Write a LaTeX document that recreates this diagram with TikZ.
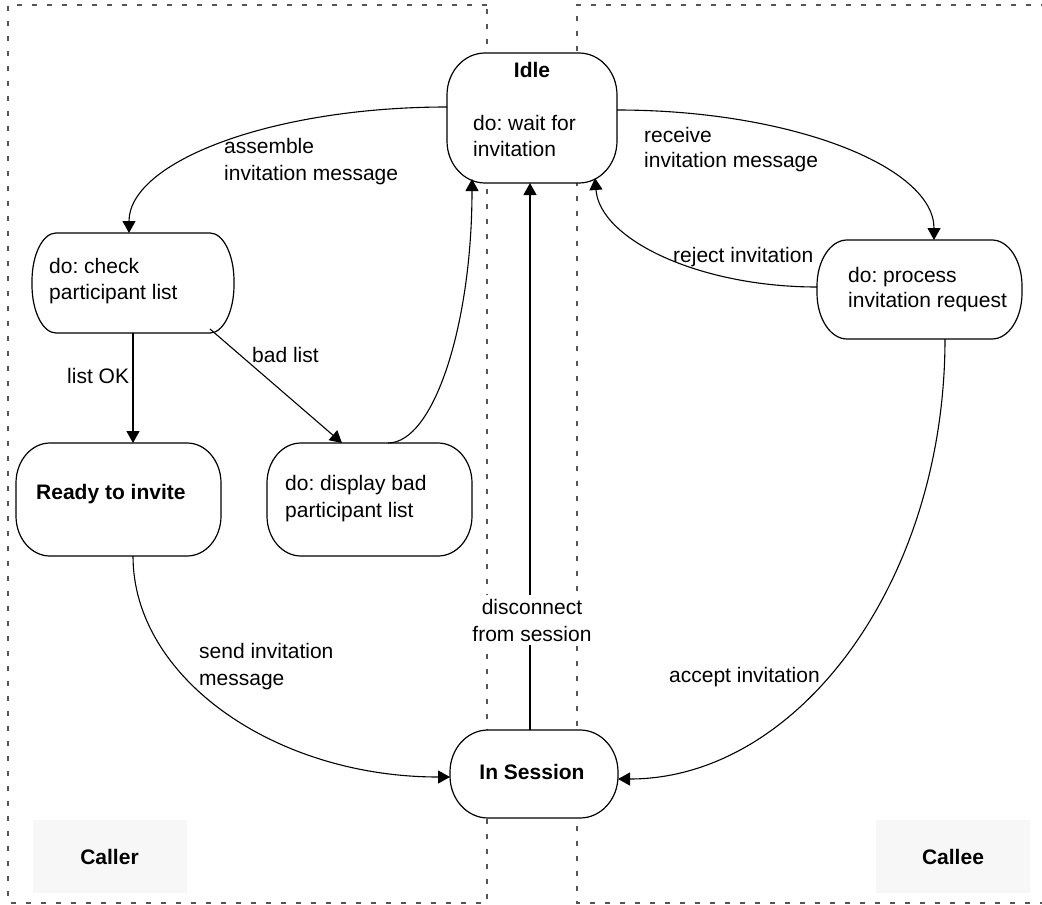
\documentclass[tikz,border=0pt]{standalone}
\usepackage{fontspec}
\setmainfont{Liberation Sans}
\frenchspacing
\usetikzlibrary{arrows.meta}
\definecolor{lanegray}{HTML}{555555}
\definecolor{tagfill}{HTML}{F7F7F7}
% Outline of a state node with elliptic corners:
% #1 node name, #2/#3 corner radii (x/y), #4/#5 control offsets ((1-0.5523) x radius)
\newcommand\stateoutline[5]{%
  \draw[stateline]
    ([xshift=#2]#1.north west) -- ([xshift=-#2]#1.north east)
    .. controls ([xshift=-#4]#1.north east) and ([yshift=-#5]#1.north east) .. ([yshift=-#3]#1.north east)
    -- ([yshift=#3]#1.south east)
    .. controls ([yshift=#5]#1.south east) and ([xshift=-#4]#1.south east) .. ([xshift=-#2]#1.south east)
    -- ([xshift=#2]#1.south west)
    .. controls ([xshift=#4]#1.south west) and ([yshift=#5]#1.south west) .. ([yshift=#3]#1.south west)
    -- ([yshift=-#3]#1.north west)
    .. controls ([yshift=-#5]#1.north west) and ([xshift=#4]#1.north west) .. ([xshift=#2]#1.north west)
    -- cycle;}
\begin{document}
\begin{tikzpicture}[x=1pt,y=-1pt,
  every node/.style={font=\fontsize{21pt}{27pt}\selectfont, inner sep=0pt},
  lane/.style={draw=lanegray, line width=1.3pt, dash pattern=on 5pt off 10pt},
  state/.style={outer sep=0pt},
  stateline/.style={draw, fill=white, line width=1.2pt},
  txt/.style={anchor=base west},
  conn/.style={draw, line width=1.1pt, -{Triangle[length=12pt,width=13pt]}},
  tag/.style={fill=tagfill, minimum width=154pt, minimum height=73pt, font=\fontsize{21pt}{27pt}\selectfont\bfseries}
]
\useasboundingbox (0,0) rectangle (1042,905);

% swimlanes
\draw[lane] (487,5) -- (8,5) -- (8,903) -- (487,903) -- cycle;
\draw[lane] (1046,5) -- (577,5) -- (577,903) -- (1046,903);

% lane tags
\node[tag] (caller) at (109.5,856.5) {Caller};
\node[tag] (callee) at (953,856.5) {Callee};

% states
\node[state, minimum width=170pt, minimum height=130pt] (idle) at (532,118) {};
\node[state, minimum width=202pt, minimum height=100pt] (check) at (133,283) {};
\node[state, minimum width=205pt, minimum height=113pt] (ready) at (118.5,499.5) {};
\node[state, minimum width=205pt, minimum height=113pt] (display) at (369.5,499.5) {};
\node[state, minimum width=205pt, minimum height=99pt] (process) at (919.5,289.5) {};
\node[state, minimum width=168pt, minimum height=88pt] (session) at (534,774) {};

\stateoutline{idle}{38pt}{42pt}{17pt}{18.8pt}
\stateoutline{check}{24pt}{48pt}{10.8pt}{21.5pt}
\stateoutline{ready}{34pt}{40pt}{15.2pt}{17.9pt}
\stateoutline{display}{34pt}{40pt}{15.2pt}{17.9pt}
\stateoutline{process}{30pt}{46pt}{13.4pt}{20.6pt}
\stateoutline{session}{38pt}{42pt}{17pt}{18.8pt}

% state texts
\node[anchor=base, font=\fontsize{21pt}{27pt}\selectfont\bfseries] (idle-title) at (532,77) {Idle};
\node[txt] (idle-do1) at (473,130) {do: wait for};
\node[txt] (idle-do2) at (473,156) {invitation};
\node[txt] (check-do1) at (49,273) {do: check};
\node[txt] (check-do2) at (49,299) {participant list};
\node[txt, font=\fontsize{21pt}{27pt}\selectfont\bfseries] (ready-title) at (36,499) {Ready to invite};
\node[txt] (display-do1) at (285,490) {do: display bad};
\node[txt] (display-do2) at (285,517) {participant list};
\node[txt] (process-do1) at (848,282) {do: process};
\node[txt] (process-do2) at (848,307) {invitation request};
\node[anchor=base, font=\fontsize{21pt}{27pt}\selectfont\bfseries] (session-title) at (532,779) {In Session};

% transitions
\draw[conn] ([yshift=11pt]idle.west) .. controls (271,107) and (129,162) .. ([xshift=-4pt]check.north);
\draw[conn] (check.south) -- (check.south |- ready.north);
\draw[conn] ([xshift=-24pt,yshift=4pt]check.south east) -- ([xshift=-27.5pt]display.north);
\draw[conn] ([xshift=18.5pt]display.north) .. controls (434,443) and (472,324) .. ([xshift=-60pt,yshift=4pt]idle.south);
\draw[conn] ([xshift=-4pt]session.north) -- ([xshift=-2pt]idle.south);
\draw[conn] ([yshift=8pt]idle.east) .. controls (792,110) and (934,167) .. ([xshift=14.5pt]process.north);
\draw[conn] ([yshift=2.5pt]process.west) .. controls (700,287) and (600,240) .. ([xshift=63pt,yshift=5pt]idle.south);
\draw[conn] ([xshift=25.5pt]process.south) .. controls (945,582) and (798,779) .. ([yshift=-5pt]session.east);
\draw[conn] ([xshift=14.5pt]ready.south) .. controls (133,678) and (275,777) .. ([yshift=-3pt]session.west);

% transition labels
\node[txt] (lbl-assemble1) at (224,153) {assemble};
\node[txt] (lbl-assemble2) at (224,180) {invitation message};
\node[txt] (lbl-receive1) at (644,142) {receive};
\node[txt] (lbl-receive2) at (644,167) {invitation message};
\node[txt] (lbl-reject) at (673,262) {reject invitation};
\node[txt] (lbl-accept) at (669,682) {accept invitation};
\node[txt] (lbl-send1) at (199,658) {send invitation};
\node[txt] (lbl-send2) at (199,685) {message};
\node[txt] (lbl-bad) at (252,362) {bad list};
\node[txt] (lbl-ok) at (67,383) {list OK};
\node[fill=white, align=center, inner xsep=1pt, inner ysep=4pt] (lbl-disconnect) at (532,620) {disconnect\\from session};
\end{tikzpicture}
\end{document}
